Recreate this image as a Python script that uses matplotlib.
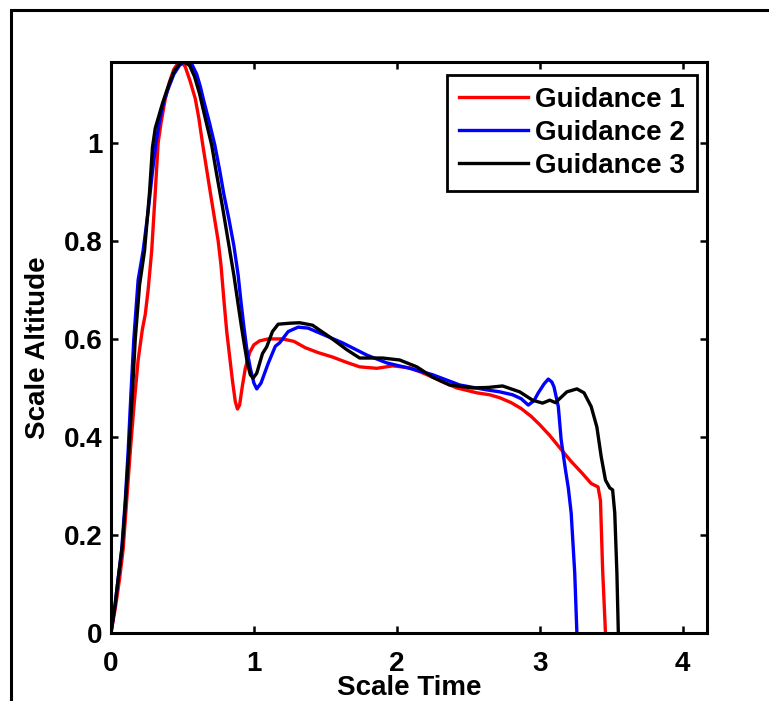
import numpy as np
import matplotlib
matplotlib.use("Agg")
import matplotlib.pyplot as plt
from matplotlib.patches import Rectangle

plt.rcParams['font.family'] = ['Liberation Sans', 'DejaVu Sans']
plt.rcParams['font.weight'] = 'bold'
plt.rcParams['font.size'] = 20

# Guidance 1 (red)
t1 = [0, 0.03, 0.06, 0.085, 0.11, 0.135, 0.16, 0.19, 0.22, 0.24, 0.26, 0.285,
      0.31, 0.33, 0.35, 0.38, 0.41, 0.44, 0.47, 0.50, 0.52, 0.555, 0.59, 0.615,
      0.64, 0.67, 0.70, 0.725, 0.75, 0.77, 0.79, 0.81, 0.83, 0.85, 0.87, 0.885,
      0.90, 0.92, 0.94, 0.97, 1.00, 1.04, 1.10, 1.20,
      1.28, 1.36, 1.45, 1.55, 1.65, 1.74, 1.86, 1.97, 2.09, 2.17, 2.25, 2.33,
      2.42, 2.56, 2.65, 2.72, 2.80, 2.87, 2.94, 3.00, 3.07, 3.14, 3.22, 3.30,
      3.36, 3.408, 3.425, 3.44, 3.46]
h1 = [0, 0.05, 0.11, 0.17, 0.27, 0.37, 0.46, 0.557, 0.62, 0.65, 0.70, 0.78,
      0.90, 1.00, 1.04, 1.09, 1.125, 1.15, 1.163, 1.163, 1.155, 1.125, 1.09, 1.05,
      1.00, 0.945, 0.89, 0.845, 0.80, 0.75, 0.68, 0.615, 0.565, 0.515, 0.472, 0.457,
      0.465, 0.505, 0.54, 0.572, 0.588, 0.596, 0.600, 0.600,
      0.595, 0.582, 0.572, 0.563, 0.552, 0.543, 0.540, 0.545, 0.541, 0.532, 0.522, 0.511,
      0.500, 0.490, 0.486, 0.480, 0.470, 0.458, 0.442, 0.425, 0.403, 0.378, 0.350, 0.325,
      0.305, 0.298, 0.27, 0.13, 0.0]

# Guidance 2 (blue)
t2 = [0, 0.03, 0.05, 0.075, 0.10, 0.12, 0.14, 0.16, 0.19, 0.225, 0.26, 0.29,
      0.315, 0.34, 0.37, 0.40, 0.44, 0.48, 0.51, 0.54, 0.57, 0.60, 0.625, 0.65,
      0.69, 0.727, 0.76, 0.79, 0.825, 0.86, 0.89, 0.91, 0.93, 0.95, 0.975, 1.0,
      1.02, 1.05, 1.10, 1.15, 1.18, 1.24,
      1.31, 1.38, 1.46, 1.62, 1.79, 1.93, 2.09, 2.25, 2.44, 2.63, 2.72, 2.81,
      2.87, 2.92, 2.96, 2.99, 3.03, 3.06, 3.085, 3.10, 3.13, 3.15, 3.18, 3.20,
      3.22, 3.245, 3.26]
h2 = [0, 0.06, 0.11, 0.17, 0.27, 0.37, 0.49, 0.60, 0.72, 0.78, 0.86, 0.94,
      1.00, 1.045, 1.085, 1.11, 1.14, 1.158, 1.165, 1.165, 1.158, 1.14, 1.115, 1.085,
      1.04, 0.995, 0.945, 0.895, 0.845, 0.79, 0.73, 0.675, 0.625, 0.58, 0.54, 0.51,
      0.498, 0.51, 0.55, 0.585, 0.592, 0.615,
      0.624, 0.622, 0.612, 0.592, 0.567, 0.551, 0.540, 0.527, 0.506, 0.496, 0.492, 0.486,
      0.478, 0.465, 0.474, 0.490, 0.508, 0.518, 0.512, 0.502, 0.462, 0.394, 0.333, 0.296,
      0.245, 0.122, 0.0]

# Guidance 3 (black)
t3 = [0, 0.03, 0.05, 0.08, 0.10, 0.125, 0.15, 0.17, 0.20, 0.235, 0.27, 0.29,
      0.31, 0.33, 0.36, 0.40, 0.44, 0.48, 0.51, 0.55, 0.585, 0.62, 0.66, 0.705,
      0.74, 0.78, 0.82, 0.86, 0.89, 0.913, 0.935, 0.955, 0.975, 0.995, 1.02, 1.06,
      1.09, 1.13, 1.17, 1.25, 1.32,
      1.41, 1.53, 1.65, 1.74, 1.90, 2.02, 2.14, 2.25, 2.37, 2.53, 2.64, 2.74,
      2.86, 2.95, 3.02, 3.07, 3.11, 3.19, 3.26, 3.31, 3.36, 3.40, 3.43, 3.46,
      3.49, 3.51, 3.525, 3.54, 3.55]
h3 = [0, 0.06, 0.11, 0.18, 0.26, 0.37, 0.49, 0.60, 0.71, 0.78, 0.90, 0.99,
      1.03, 1.05, 1.08, 1.115, 1.145, 1.162, 1.165, 1.158, 1.135, 1.10, 1.05, 0.995,
      0.935, 0.87, 0.80, 0.73, 0.67, 0.625, 0.585, 0.55, 0.527, 0.52, 0.53, 0.57,
      0.584, 0.615, 0.63, 0.632, 0.633,
      0.628, 0.604, 0.578, 0.561, 0.561, 0.557, 0.543, 0.522, 0.506, 0.500, 0.501, 0.504,
      0.492, 0.475, 0.469, 0.475, 0.470, 0.492, 0.498, 0.490, 0.462, 0.420, 0.360, 0.312,
      0.296, 0.292, 0.245, 0.122, 0.0]

labels = ['Guidance 1', 'Guidance 2', 'Guidance 3']
colors = ['#ff0000', '#0000ff', '#000000']

fig = plt.figure(figsize=(7.69, 7.01), dpi=100)
ax = fig.add_axes([0.1443, 0.0970, 0.7750, 0.8146])

for t, h, lab, c in zip([t1, t2, t3], [h1, h2, h3], labels, colors):
    ax.plot(t, h, color=c, linewidth=2.4, label=lab)

ax.set_xlim(0, 4.17)
ax.set_ylim(0, 1.165)
ax.set_xticks([0, 1, 2, 3, 4])
ax.set_xticklabels(['0', '1', '2', '3', '4'])
ax.set_yticks([0, 0.2, 0.4, 0.6, 0.8, 1.0])
ax.set_yticklabels(['0', '0.2', '0.4', '0.6', '0.8', '1'])
ax.tick_params(direction='in', length=5, width=1.8, top=True, right=True)
ax.tick_params(axis='x', pad=13)
ax.tick_params(axis='y', pad=6)
for s in ax.spines.values():
    s.set_linewidth(2.2)

ax.set_xlabel('Scale Time', fontweight='bold', va='center')
ax.xaxis.set_label_coords(0.5, -0.096)
ax.set_ylabel('Scale Altitude', fontweight='bold', va='center')
ax.yaxis.set_label_coords(-0.122, 0.5)

leg = ax.legend(loc='upper right', bbox_to_anchor=(0.983, 0.977), fancybox=False,
                edgecolor='black', framealpha=1, handlelength=2.5,
                handletextpad=0.25, labelspacing=0.26, borderpad=0.42,
                borderaxespad=0)
leg.get_frame().set_linewidth(2.0)

# outer frame (cut off at the right and bottom)
fig.add_artist(Rectangle((0.0143, -0.5), 2.0, 0.9857 + 0.5, transform=fig.transFigure,
                         fill=False, edgecolor='black', linewidth=2.2))

fig.savefig('out.png', dpi=100)
